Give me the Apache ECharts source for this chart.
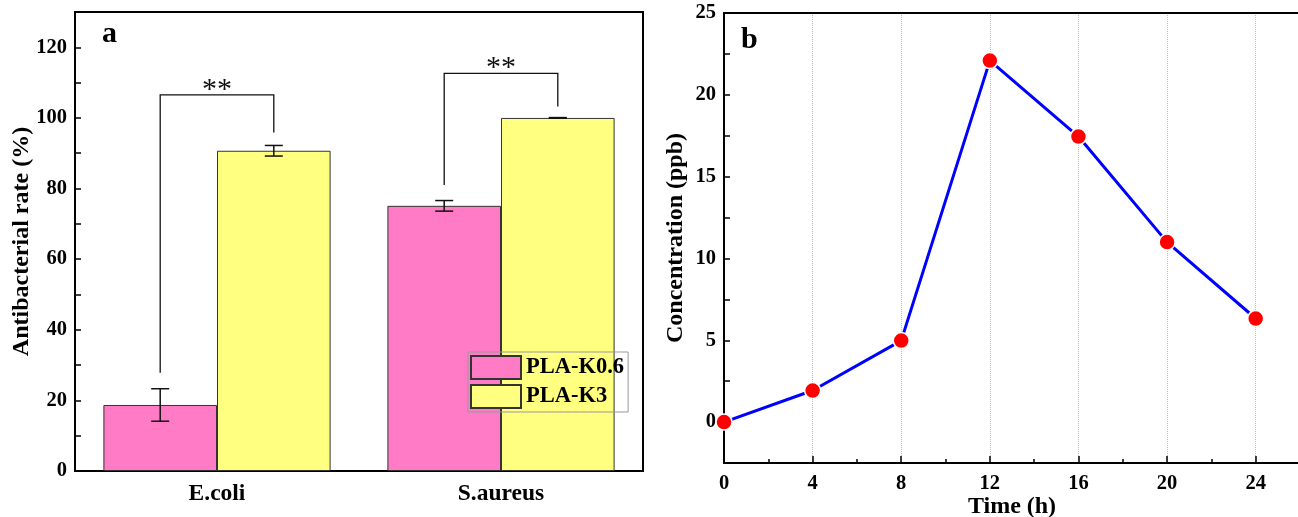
<!DOCTYPE html>
<html>
<head>
<meta charset="utf-8">
<script src="https://cdn.jsdelivr.net/npm/echarts@6/dist/echarts.min.js"></script>
<style>html,body{margin:0;padding:0;background:#fff;}#c{width:1298px;height:517px;}</style>
</head>
<body>
<div id="c"></div>
<script>
// ---- Panel a data ----
const categories = ['E.coli', 'S.aureus'];
const seriesNames = ['PLA-K0.6', 'PLA-K3'];
const k06Values = [18.7, 75.1];
const k06Errors = [4.6, 1.5];
const k3Values = [90.7, 100.0];
const k3Errors = [1.5, 0.1];
// significance brackets: top of bracket, end of left leg, end of right leg
const bracketTop = [106.5, 112.6];
const bracketLeftEnd = [27.8, 81.0];
const bracketRightEnd = [95.9, 103.2];
const bracketText = ['**', '**'];
const yTicksA = [0, 20, 40, 60, 80, 100, 120];

// ---- Panel b data ----
const timeH = [0, 4, 8, 12, 16, 20, 24];
const concentration = [0, 1.93, 4.98, 22.09, 17.45, 11.0, 6.33];
const xTicksB = [0, 4, 8, 12, 16, 20, 24];
const yTicksB = [0, 5, 10, 15, 20, 25];

const PINK = '#ff7bc6';
const YELLOW = '#ffff80';
const FONT = '"Liberation Serif", "Times New Roman", serif';

const errData = [];
categories.forEach((c, i) => {
  errData.push([i, k06Values[i], k06Errors[i], -1]);
  errData.push([i, k3Values[i], k3Errors[i], 1]);
});
const bracketData = categories.map((c, i) => [i, bracketTop[i], bracketLeftEnd[i], bracketRightEnd[i]]);

function barCenter(api, cat, side) {
  const c = api.coord([cat, 0]);
  const band = api.size([1, 0])[0];
  const barW = band * 0.8 / 2;
  return c[0] + side * barW / 2;
}

const chart = echarts.init(document.getElementById('c'), null, {renderer: 'canvas'});
chart.setOption({
  animation: false,
  backgroundColor: '#fff',
  textStyle: {fontFamily: FONT},
  graphic: [
    {type: 'text', left: 102, top: 19, style: {text: 'a', font: 'bold 30px ' + FONT, fill: '#000'}},
    {type: 'text', left: 741, top: 25, style: {text: 'b', font: 'bold 30px ' + FONT, fill: '#000'}}
  ],
  legend: {
    data: seriesNames,
    orient: 'vertical',
    left: 468, top: 352,
    itemWidth: 50, itemHeight: 23, itemGap: 4,
    padding: [3, 4, 3, 2],
    borderColor: '#999', borderWidth: 1,
    icon: 'rect',
    textStyle: {fontFamily: FONT, fontWeight: 'bold', fontSize: 22.5, color: '#000'}
  },
  grid: [
    {left: 75, top: 12, width: 568, height: 459, show: true, borderColor: '#000', borderWidth: 2,
     containLabel: false, outerBoundsMode: 'none'},
    {left: 724, top: 13, width: 576, height: 450, show: false,
     containLabel: false, outerBoundsMode: 'none'}
  ],
  xAxis: [
    {
      gridIndex: 0, type: 'category', data: categories,
      axisLine: {lineStyle: {color: '#000', width: 2}},
      axisTick: {inside: true, length: 6, lineStyle: {color: '#000', width: 1.5}},
      axisLabel: {fontFamily: FONT, fontWeight: 'bold', fontSize: 23.5, color: '#000', margin: 11}
    },
    {
      gridIndex: 1, type: 'value', min: 0, max: 26, interval: 4,
      axisLine: {onZero: false, lineStyle: {color: '#000', width: 2}},
      axisTick: {inside: true, length: 7, lineStyle: {color: '#000', width: 1.5}},
      minorTick: {show: true, splitNumber: 2, length: 4, lineStyle: {color: '#000', width: 1.5}},
      axisLabel: {fontFamily: FONT, fontWeight: 'bold', fontSize: 20.5, color: '#000', margin: 10,
        formatter: v => (xTicksB.indexOf(v) >= 0 ? String(v) : '')},
      splitLine: {show: true, lineStyle: {color: '#bbb', width: 1, type: 'dotted'}},
      name: 'Time (h)', nameLocation: 'middle', nameGap: 32, nameMoveOverlap: false,
      nameTextStyle: {fontFamily: FONT, fontWeight: 'bold', fontSize: 24, color: '#000'}
    },
    {
      gridIndex: 1, type: 'value', min: 0, max: 26, position: 'top',
      axisLine: {show: true, onZero: false, lineStyle: {color: '#000', width: 2}},
      axisTick: {show: false}, axisLabel: {show: false}, splitLine: {show: false}
    }
  ],
  yAxis: [
    {
      gridIndex: 0, type: 'value', min: 0, max: 130, interval: 10,
      axisLine: {show: true, lineStyle: {color: '#000', width: 2}},
      axisTick: {show: true, inside: true, length: 6, lineStyle: {color: '#000', width: 1.5}},
      axisLabel: {fontFamily: FONT, fontWeight: 'bold', fontSize: 20.5, color: '#000', margin: 8,
        formatter: v => (yTicksA.indexOf(v) >= 0 ? String(v) : '')},
      splitLine: {show: false},
      name: 'Antibacterial rate (%)', nameLocation: 'middle', nameGap: 41, nameMoveOverlap: false,
      nameTextStyle: {fontFamily: FONT, fontWeight: 'bold', fontSize: 24, color: '#000'}
    },
    {
      gridIndex: 1, type: 'value', min: -2.5, max: 25, interval: 2.5,
      axisLine: {show: true, onZero: false, lineStyle: {color: '#000', width: 2}},
      axisTick: {show: true, inside: true, length: 6, lineStyle: {color: '#000', width: 1.5}},
      axisLabel: {fontFamily: FONT, fontWeight: 'bold', fontSize: 20.5, color: '#000', margin: 8,
        formatter: v => (yTicksB.indexOf(v) >= 0 ? String(v) : '')},
      splitLine: {show: false},
      name: 'Concentration (ppb)', nameLocation: 'middle', nameGap: 36, nameMoveOverlap: false,
      nameTextStyle: {fontFamily: FONT, fontWeight: 'bold', fontSize: 24, color: '#000'}
    }
  ],
  series: [
    {
      name: seriesNames[0], type: 'bar', xAxisIndex: 0, yAxisIndex: 0,
      data: k06Values, barGap: '0%', barCategoryGap: '20%',
      itemStyle: {color: PINK, borderColor: '#333', borderWidth: 1}
    },
    {
      name: seriesNames[1], type: 'bar', xAxisIndex: 0, yAxisIndex: 0,
      data: k3Values, barGap: '0%', barCategoryGap: '20%',
      itemStyle: {color: YELLOW, borderColor: '#333', borderWidth: 1}
    },
    {
      type: 'custom', name: 'errors', xAxisIndex: 0, yAxisIndex: 0, z: 5,
      data: errData,
      renderItem: function (params, api) {
        const cat = api.value(0), val = api.value(1), err = api.value(2), side = api.value(3);
        const x = barCenter(api, cat, side);
        const yT = api.coord([cat, val + err])[1];
        const yB = api.coord([cat, val - err])[1];
        const hw = 9;
        const st = {stroke: '#111', lineWidth: 1.5};
        return {type: 'group', children: [
          {type: 'line', shape: {x1: x, y1: yT, x2: x, y2: yB}, style: st},
          {type: 'line', shape: {x1: x - hw, y1: yT, x2: x + hw, y2: yT}, style: st},
          {type: 'line', shape: {x1: x - hw, y1: yB, x2: x + hw, y2: yB}, style: st}
        ]};
      }
    },
    {
      type: 'custom', name: 'brackets', xAxisIndex: 0, yAxisIndex: 0, z: 5,
      data: bracketData,
      renderItem: function (params, api) {
        const cat = api.value(0);
        const xl = barCenter(api, cat, -1), xr = barCenter(api, cat, 1);
        const yTop = api.coord([cat, api.value(1)])[1];
        const yL = api.coord([cat, api.value(2)])[1];
        const yR = api.coord([cat, api.value(3)])[1];
        return {type: 'group', children: [
          {type: 'polyline', shape: {points: [[xl, yL], [xl, yTop], [xr, yTop], [xr, yR]]},
            style: {stroke: '#111', lineWidth: 1.3, fill: null}},
          {type: 'text', x: (xl + xr) / 2, y: yTop - 5,
            style: {text: bracketText[params.dataIndex], font: '30px ' + FONT, fill: '#111',
              align: 'center', verticalAlign: 'middle'}}
        ]};
      }
    },
    {
      name: 'Concentration', type: 'line', xAxisIndex: 1, yAxisIndex: 1,
      data: timeH.map((t, i) => [t, concentration[i]]),
      lineStyle: {color: '#0000ff', width: 3},
      symbol: 'circle', symbolSize: 16,
      itemStyle: {color: '#ff0000', borderColor: '#fff', borderWidth: 1.5},
      z: 6
    }
  ]
});
</script>
</body>
</html>
